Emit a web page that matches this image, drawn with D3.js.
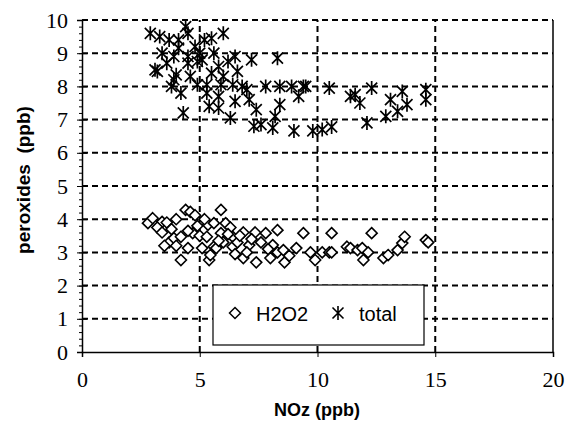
<!DOCTYPE html>
<html>
<head>
<meta charset="utf-8">
<script src="https://cdn.jsdelivr.net/npm/d3@7"></script>
<style>
  body { margin: 0; background: #fff; }
  svg { display: block; }
</style>
</head>
<body>
<svg width="565" height="426"></svg>
<script>
// peroxides vs NOz, two series
var xTicks = [0, 5, 10, 15, 20];
var yTicks = [0, 1, 2, 3, 4, 5, 6, 7, 8, 9, 10];

var h2o2 = [
  [2.8,3.88],[3.0,4.03],[3.4,3.92],[3.2,3.75],[3.4,3.6],[3.6,3.9],[3.7,3.3],[3.9,3.43],
  [3.8,3.7],[4.0,4.0],[4.2,3.47],[4.2,2.77],[4.4,4.28],[4.5,3.13],[4.6,4.22],[4.7,3.58],
  [4.8,4.12],[4.9,3.8],[5.1,3.13],[5.0,3.5],[5.3,3.47],[5.35,3.83],[5.4,2.77],[5.45,2.92],
  [5.6,3.17],[5.6,3.88],[5.7,3.13],[5.9,4.28],[5.9,3.58],[6.1,3.88],[6.0,3.3],[6.4,3.47],
  [6.4,3.17],[6.3,3.75],[6.85,3.6],[6.85,2.83],[6.6,3.3],[7.1,3.22],[7.35,3.6],[7.4,2.7],
  [7.0,3.0],[7.6,3.3],[7.8,3.58],[8.0,2.83],[8.1,3.22],[8.3,3.67],[8.3,3.0],[8.55,3.07],
  [8.6,2.7],[8.8,2.9],[9.1,3.13],[9.4,3.58],[9.7,3.0],[9.9,2.77],[10.2,3.0],[10.5,3.0],
  [10.6,3.58],[10.6,3.0],[11.25,3.17],[11.4,3.13],[11.7,3.07],[11.9,3.13],[11.95,2.77],
  [12.15,3.0],[12.3,3.58],[12.8,2.83],[13.0,2.92],[13.4,3.07],[13.6,3.28],[13.7,3.47],
  [14.6,3.37],[14.7,3.3],[3.5,3.2],[4.0,3.2],[4.5,3.65],[5.2,4.0],[5.8,3.35],[6.2,3.55],
  [6.7,3.5],[7.2,3.4],[7.9,3.1],[6.5,2.95]
];

var total = [
  [2.9,9.6],[3.3,9.5],[3.7,9.4],[4.1,9.15],[4.4,9.8],[4.5,9.6],[4.1,9.4],[5.2,9.4],
  [5.5,9.45],[6.0,9.6],[3.4,9.0],[3.1,8.5],[3.2,8.45],[3.6,8.7],[4.0,8.35],[4.5,8.9],
  [4.5,8.7],[4.9,8.75],[5.1,8.8],[3.8,8.0],[4.2,7.8],[3.9,8.2],[4.6,8.3],[5.0,9.0],
  [5.6,9.0],[5.8,8.6],[6.2,8.75],[6.6,8.45],[7.2,8.8],[8.3,8.85],[4.9,8.05],[5.3,8.05],
  [5.9,8.05],[6.4,8.05],[6.8,8.0],[7.8,8.0],[8.4,8.0],[8.9,8.0],[9.4,8.0],[9.5,8.0],
  [10.5,7.95],[4.3,7.2],[5.3,7.8],[5.8,7.7],[6.5,7.55],[5.4,7.4],[5.8,7.35],[6.3,7.05],
  [7.1,7.6],[8.4,7.45],[9.2,7.7],[8.2,7.1],[7.3,6.8],[7.6,6.85],[8.1,6.75],[9.0,6.66],
  [9.8,6.66],[10.2,6.7],[10.6,6.78],[11.4,7.7],[11.6,7.75],[11.8,7.5],[12.3,7.95],
  [12.1,6.9],[12.9,7.1],[13.1,7.6],[13.4,7.25],[13.6,7.85],[13.8,7.45],[14.6,7.9],
  [14.6,7.6],[7.0,7.9],[6.0,8.3],[5.5,8.4],[4.8,9.2],[3.9,8.9],[6.5,8.9],[7.4,7.3]
];

var svg = d3.select("svg");
var x = d3.scaleLinear().domain([0, 20]).range([82, 553]);
var y = d3.scaleLinear().domain([0, 10]).range([352, 20]);

var serif = "'Liberation Serif', 'Times New Roman', serif";
var sans = "'Liberation Sans', Arial, sans-serif";

// dashed grid
svg.append("g").selectAll("line")
  .data(yTicks.filter(d => d > 0))
  .join("line")
  .attr("x1", x(0)).attr("x2", x(20))
  .attr("y1", d => y(d)).attr("y2", d => y(d))
  .attr("stroke", "#000").attr("stroke-width", 2)
  .attr("stroke-dasharray", "6,4");

svg.append("g").selectAll("line")
  .data([5, 10, 15])
  .join("line")
  .attr("x1", d => x(d)).attr("x2", d => x(d))
  .attr("y1", y(0)).attr("y2", y(10))
  .attr("stroke", "#000").attr("stroke-width", 2)
  .attr("stroke-dasharray", "6,4");

// right border
svg.append("line")
  .attr("x1", x(20)).attr("x2", x(20))
  .attr("y1", y(0)).attr("y2", y(10))
  .attr("stroke", "#000").attr("stroke-width", 1.5);

// x axis
var xAxis = svg.append("g")
  .attr("transform", "translate(0," + y(0) + ")")
  .call(d3.axisBottom(x).tickValues(xTicks).tickSize(5).tickPadding(14));
xAxis.select(".domain").attr("stroke-width", 1.5);
xAxis.selectAll("text").attr("font-family", serif).attr("font-size", 22).attr("fill", "#000");

// y axis: minor ticks then majors
svg.append("g")
  .attr("transform", "translate(" + x(0) + ",0)")
  .call(d3.axisLeft(y).ticks(50).tickSize(3).tickFormat(""))
  .call(g => g.select(".domain").remove());

var yAxis = svg.append("g")
  .attr("transform", "translate(" + x(0) + ",0)")
  .call(d3.axisLeft(y).tickValues(yTicks).tickSize(5).tickPadding(9));
yAxis.select(".domain").attr("stroke-width", 1.5);
yAxis.selectAll(".tick line").attr("x2", 5).attr("x1", -5);
yAxis.selectAll("text").attr("font-family", serif).attr("font-size", 22).attr("fill", "#000");

// markers
var diamond = "M0,-5.5L5.5,0L0,5.5L-5.5,0Z";
var star = "M-5.5,-5.5L5.5,5.5M5.5,-5.5L-5.5,5.5M0,-7L0,7";

svg.append("g").selectAll("path")
  .data(total)
  .join("path")
  .attr("d", star)
  .attr("transform", d => "translate(" + x(d[0]) + "," + y(d[1]) + ")")
  .attr("fill", "none").attr("stroke", "#000").attr("stroke-width", 1.7);

svg.append("g").selectAll("path")
  .data(h2o2)
  .join("path")
  .attr("d", diamond)
  .attr("transform", d => "translate(" + x(d[0]) + "," + y(d[1]) + ")")
  .attr("fill", "#fff").attr("stroke", "#000").attr("stroke-width", 1.6);

// legend
var leg = svg.append("g");
leg.append("rect")
  .attr("x", 213).attr("y", 285).attr("width", 211).attr("height", 60)
  .attr("fill", "#fff").attr("stroke", "#000").attr("stroke-width", 1.2);
leg.append("path").attr("d", diamond)
  .attr("transform", "translate(235,313)")
  .attr("fill", "#fff").attr("stroke", "#000").attr("stroke-width", 1.5);
leg.append("text").attr("x", 256).attr("y", 321)
  .attr("font-family", sans).attr("font-size", 20).text("H2O2");
leg.append("path").attr("d", star)
  .attr("transform", "translate(338,313)")
  .attr("fill", "none").attr("stroke", "#000").attr("stroke-width", 1.6);
leg.append("text").attr("x", 359).attr("y", 321)
  .attr("font-family", sans).attr("font-size", 20).text("total");

// axis titles
svg.append("text")
  .attr("x", 317).attr("y", 416)
  .attr("text-anchor", "middle")
  .attr("font-family", sans).attr("font-weight", "bold").attr("font-size", 18)
  .text("NOz (ppb)");

svg.append("text")
  .attr("transform", "translate(30,180) rotate(-90)")
  .attr("text-anchor", "middle")
  .attr("font-family", sans).attr("font-weight", "bold").attr("font-size", 19)
  .attr("xml:space", "preserve")
  .text("peroxides  (ppb)");
</script>
</body>
</html>
